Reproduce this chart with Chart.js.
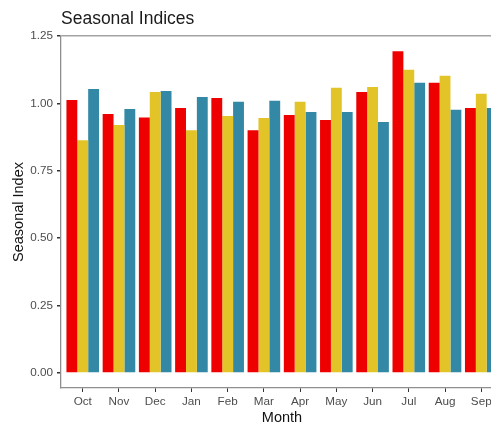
<!DOCTYPE html>
<html>
<head>
<meta charset="utf-8">
<script src="https://cdn.jsdelivr.net/npm/chart.js@4/dist/chart.umd.min.js"></script>
<style>
html, body { margin: 0; padding: 0; background: #ffffff; overflow: hidden; }
#wrap { width: 491px; height: 424px; overflow: hidden; }
canvas { display: block; }
</style>
</head>
<body>
<div id="wrap"><canvas id="c" width="503" height="427"></canvas></div>
<script>
const months = ["Oct", "Nov", "Dec", "Jan", "Feb", "Mar", "Apr", "May", "Jun", "Jul", "Aug", "Sep"];
const series1 = [1.013, 0.961, 0.948, 0.983, 1.020, 0.900, 0.957, 0.938, 1.042, 1.193, 1.077, 0.983];
const series2 = [0.863, 0.920, 1.042, 0.900, 0.953, 0.946, 1.006, 1.058, 1.061, 1.125, 1.103, 1.036];
const series3 = [1.053, 0.979, 1.046, 1.024, 1.006, 1.010, 0.968, 0.968, 0.931, 1.077, 0.976, 0.983];
const yTicks = [0.00, 0.25, 0.50, 0.75, 1.00, 1.25];

const FONT = "'Liberation Sans', Arial, Helvetica, sans-serif";
const toPts = arr => arr.map((v, i) => ({ x: i, y: v }));

new Chart(document.getElementById('c'), {
  type: 'bar',
  data: {
    datasets: [
      { label: 'Series 1', data: toPts(series1), backgroundColor: '#EE0000' },
      { label: 'Series 2', data: toPts(series2), backgroundColor: '#E3C428' },
      { label: 'Series 3', data: toPts(series3), backgroundColor: '#3389A5' }
    ]
  },
  options: {
    responsive: false,
    animation: false,
    devicePixelRatio: 1,
    layout: { padding: 0 },
    datasets: { bar: { categoryPercentage: 0.9, barPercentage: 1.0, borderWidth: 0 } },
    plugins: {
      legend: { display: false },
      tooltip: { enabled: false },
      title: {
        display: true,
        text: 'Seasonal Indices',
        align: 'start',
        fullSize: false,
        color: '#1a1a1a',
        font: { family: FONT, size: 17.5, weight: 'normal', lineHeight: 1.2 },
        padding: { top: 9, bottom: 6 }
      }
    },
    scales: {
      x: {
        type: 'linear',
        offset: false,
        min: -0.6,
        max: months.length - 1 + 0.6,
        afterBuildTicks: s => { s.ticks = months.map((_, i) => ({ value: i })); },
        afterFit: s => { s.height = 39; },
        ticks: {
          autoSkip: false,
          maxRotation: 0,
          padding: 3,
          color: '#4d4d4d',
          font: { family: FONT, size: 11.7 },
          callback: (v) => months[v]
        },
        grid: { drawOnChartArea: false, color: '#333333', tickColor: '#333333', tickLength: 4, offset: false },
        border: { display: true, color: '#8f8f8f', width: 1.3 },
        title: {
          display: true, text: 'Month', color: '#111111',
          font: { family: FONT, size: 14.5 }, padding: { top: 0, bottom: 0 }
        }
      },
      y: {
        min: -0.0556,
        max: 1.25,
        afterBuildTicks: s => { s.ticks = yTicks.map(v => ({ value: v })); },
        afterFit: s => { s.width = 61; },
        ticks: {
          padding: 4,
          color: '#4d4d4d',
          font: { family: FONT, size: 11.7 },
          callback: v => Number(v).toFixed(2)
        },
        grid: {
          color: ctx => (ctx.tick && Math.abs(ctx.tick.value - 1.25) < 1e-9) ? '#a3a3a3' : 'rgba(0,0,0,0)',
          lineWidth: 1.5,
          tickColor: '#333333',
          tickLength: 4
        },
        border: { display: true, color: '#8f8f8f', width: 1.3 },
        title: {
          display: true, text: 'Seasonal Index', color: '#111111',
          font: { family: FONT, size: 14.5 }, padding: { top: 10, bottom: 0 }
        }
      }
    }
  }
});
</script>
</body>
</html>
